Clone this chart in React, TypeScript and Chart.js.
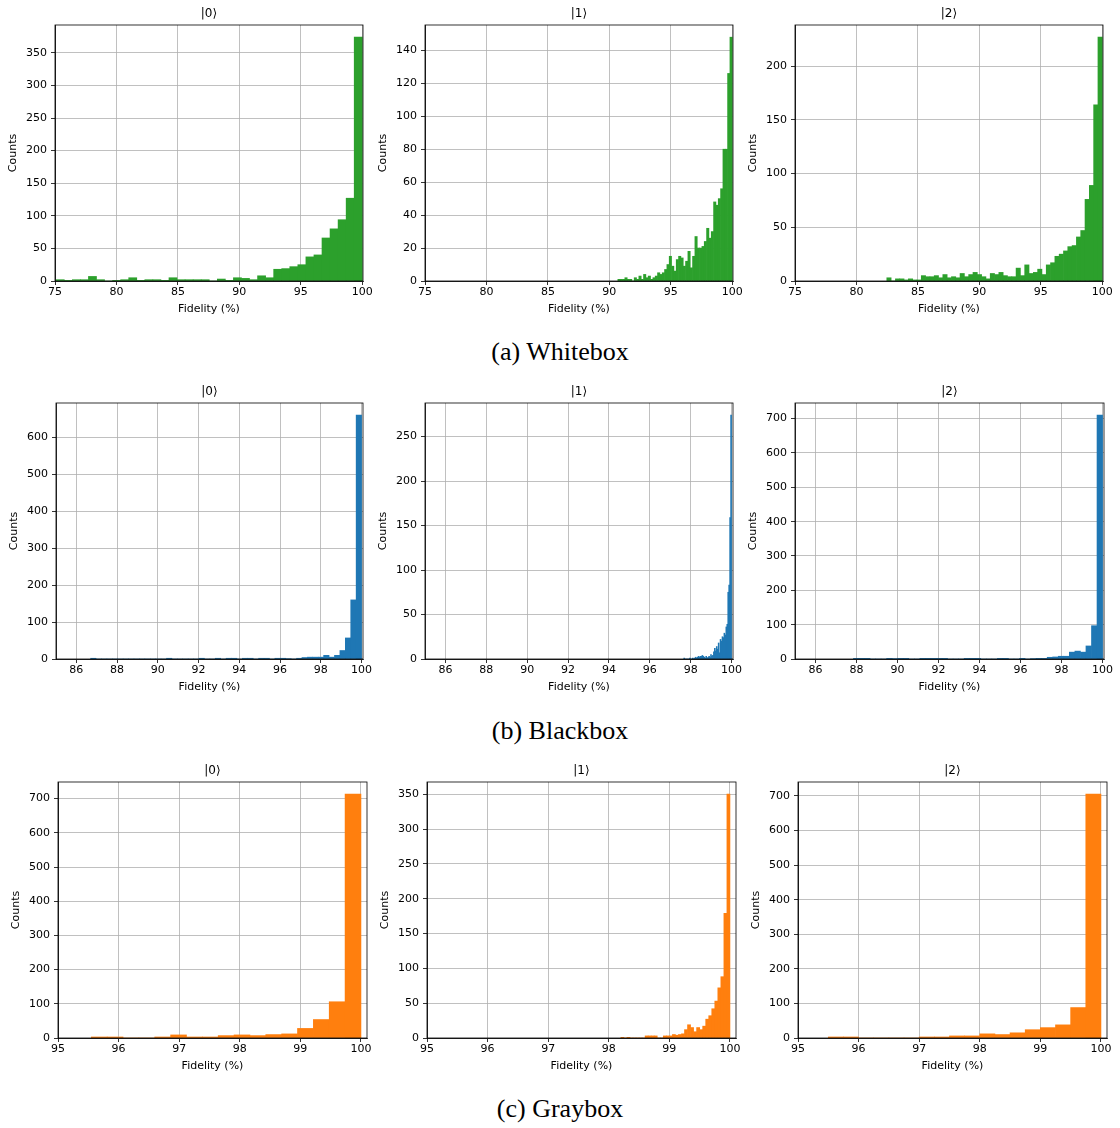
import React, { useEffect, useRef } from "react";
import { Chart, registerables } from "chart.js";

Chart.register(...registerables);

// ---------- data (counts per histogram bin, bins uniform over the range) ----------
const wbRange0: [number, number] = [75.1, 100];
const wbCounts0 = [2, 1, 2, 2, 7, 2, 0, 1, 2, 5, 1, 2, 2, 1, 5, 2, 2, 2, 2, 0, 3, 1, 5, 4, 2, 8, 5, 18, 19, 22, 25, 37, 40, 66, 80, 94, 127, 374];
const wbRange1: [number, number] = [90.69, 100];
const wbCounts1 = [1, 1, 1, 2, 1, 1, 0, 2, 1, 3, 1, 4, 2, 3, 1, 2, 3, 5, 4, 5, 7, 10, 15, 9, 6, 13, 15, 14, 9, 12, 18, 8, 15, 27, 20, 20, 21, 24, 32, 26, 30, 48, 46, 50, 56, 80, 80, 126, 148];
const wbRange2: [number, number] = [82.47, 100];
const wbCounts2 = [3, 0, 2, 2, 1, 2, 1, 1, 5, 4, 4, 5, 3, 6, 3, 4, 3, 7, 4, 6, 8, 6, 4, 2, 7, 6, 8, 5, 4, 4, 12, 5, 15, 7, 8, 11, 6, 15, 17, 23, 25, 28, 32, 33, 41, 47, 76, 89, 164, 227];

const bbRange0: [number, number] = [86.7, 100];
const bbCounts0 = [2, 0, 0, 0, 0, 0, 0, 0, 0, 0, 0, 0, 0, 0, 2, 0, 0, 0, 0, 0, 2, 0, 0, 2, 0, 2, 2, 0, 2, 2, 0, 2, 2, 0, 2, 2, 1, 0, 2, 4, 5, 5, 5, 10, 5, 10, 23, 57, 160, 660];
const bbRange1: [number, number] = [97.66, 100];
const bbCounts1 = [1, 0, 0, 0, 0, 0, 1, 0, 0, 1, 0, 1, 2, 1, 2, 3, 2, 3, 3, 4, 3, 2, 1, 3, 1, 2, 3, 2, 5, 3, 4, 8, 12, 9, 14, 11, 18, 7, 22, 20, 25, 24, 29, 27, 36, 39, 75, 83, 159, 274];
const bbRange2: [number, number] = [87.85, 100];
const bbCounts2 = [2, 2, 2, 0, 0, 0, 2, 1, 2, 2, 0, 0, 2, 2, 2, 2, 2, 0, 0, 0, 2, 2, 2, 0, 0, 0, 2, 2, 0, 0, 2, 0, 1, 2, 2, 5, 6, 8, 8, 20, 23, 20, 38, 97, 710];

const gbRange0: [number, number] = [95.55, 100];
const gbCounts0 = [3, 3, 0, 0, 3, 9, 3, 3, 7, 9, 7, 10, 12, 28, 54, 106, 713];
const gbRange1: [number, number] = [98.2, 100];
const gbCounts1 = [1, 0, 1, 0, 0, 0, 0, 0, 3, 3, 3, 3, 0, 0, 3, 3, 3, 5, 4, 5, 6, 12, 19, 15, 9, 15, 12, 17, 27, 32, 42, 53, 72, 88, 179, 350];
const gbRange2: [number, number] = [95.5, 100];
const gbCounts2 = [3, 3, 0, 0, 0, 0, 3, 3, 6, 6, 12, 10, 15, 24, 30, 38, 88, 705];

// ---------- tick labels ----------
const wbXTicks = [75, 80, 85, 90, 95, 100];
const bbXTicks = [86, 88, 90, 92, 94, 96, 98, 100];
const gbXTicks = [95, 96, 97, 98, 99, 100];
const yTicks350 = [0, 50, 100, 150, 200, 250, 300, 350];
const yTicks140 = [0, 20, 40, 60, 80, 100, 120, 140];
const yTicks200 = [0, 50, 100, 150, 200];
const yTicks600 = [0, 100, 200, 300, 400, 500, 600];
const yTicks250 = [0, 50, 100, 150, 200, 250];
const yTicks700 = [0, 100, 200, 300, 400, 500, 600, 700];

const stateTitles = ["|0\u27E9", "|1\u27E9", "|2\u27E9"];
const captions = ["(a) Whitebox", "(b) Blackbox", "(c) Graybox"];

// ---------- styling ----------
const GREEN = "#2ca02c";
const BLUE = "#1f77b4";
const ORANGE = "#ff7f0e";
const GRID = "#b0b0b0";
const FONT = { family: "'DejaVu Sans', sans-serif", size: 11 };

const Y_AXIS_W = 55;
const TOP_PAD = 25;
const X_AXIS_H = 35;
const RIGHT_PAD = 20;

type PanelDef = {
  title: string;
  counts: number[];
  range: [number, number];
  xMin: number;
  xMax: number;
  xTicks: number[];
  yTicks: number[];
  color: string;
  left: number;
  top: number;
  w: number;
  h: number;
};

const panels: PanelDef[] = [
  { title: stateTitles[0], counts: wbCounts0, range: wbRange0, xMin: 75, xMax: 100.06, xTicks: wbXTicks, yTicks: yTicks350, color: GREEN, left: 55, top: 25, w: 308, h: 256 },
  { title: stateTitles[1], counts: wbCounts1, range: wbRange1, xMin: 75, xMax: 100.06, xTicks: wbXTicks, yTicks: yTicks140, color: GREEN, left: 425, top: 25, w: 308, h: 256 },
  { title: stateTitles[2], counts: wbCounts2, range: wbRange2, xMin: 75, xMax: 100.06, xTicks: wbXTicks, yTicks: yTicks200, color: GREEN, left: 795, top: 25, w: 308, h: 256 },
  { title: stateTitles[0], counts: bbCounts0, range: bbRange0, xMin: 85, xMax: 100.07, xTicks: bbXTicks, yTicks: yTicks600, color: BLUE, left: 56, top: 403, w: 307, h: 256 },
  { title: stateTitles[1], counts: bbCounts1, range: bbRange1, xMin: 85, xMax: 100.07, xTicks: bbXTicks, yTicks: yTicks250, color: BLUE, left: 425, top: 403, w: 308, h: 256 },
  { title: stateTitles[2], counts: bbCounts2, range: bbRange2, xMin: 85, xMax: 100.07, xTicks: bbXTicks, yTicks: yTicks700, color: BLUE, left: 795, top: 403, w: 309, h: 256 },
  { title: stateTitles[0], counts: gbCounts0, range: gbRange0, xMin: 95, xMax: 100.1, xTicks: gbXTicks, yTicks: yTicks700, color: ORANGE, left: 58, top: 782, w: 309, h: 256 },
  { title: stateTitles[1], counts: gbCounts1, range: gbRange1, xMin: 95, xMax: 100.1, xTicks: gbXTicks, yTicks: yTicks350, color: ORANGE, left: 427, top: 782, w: 309, h: 256 },
  { title: stateTitles[2], counts: gbCounts2, range: gbRange2, xMin: 95, xMax: 100.1, xTicks: gbXTicks, yTicks: yTicks700, color: ORANGE, left: 798, top: 782, w: 309, h: 256 },
];

const captionCenters = [352, 731, 1109];

function HistPanel({ p }: { p: PanelDef }) {
  const ref = useRef<HTMLCanvasElement>(null);
  const cw = Y_AXIS_W + p.w + RIGHT_PAD;
  const ch = TOP_PAD + p.h + X_AXIS_H;

  useEffect(() => {
    const canvas = ref.current;
    if (!canvas) return;
    const [a, b] = p.range;
    const n = p.counts.length;
    const binW = (b - a) / n;
    const pts = p.counts.map((c, i) => ({ x: a + (i + 0.5) * binW, y: c }));
    const yMax = Math.max(...p.counts) * 1.05;

    const framePlugin = {
      id: "frameAndTitle",
      afterDraw(chart: any) {
        const { ctx, chartArea } = chart;
        const { left, top, right, bottom } = chartArea;
        ctx.save();
        ctx.strokeStyle = "#000";
        ctx.lineWidth = 0.8;
        ctx.strokeRect(left, top, right - left, bottom - top);
        ctx.fillStyle = "#000";
        ctx.font = `12px ${FONT.family}`;
        ctx.textAlign = "center";
        ctx.textBaseline = "alphabetic";
        ctx.fillText(p.title, (left + right) / 2, top - 8.5);
        ctx.restore();
      },
    };

    const chart = new Chart(canvas, {
      type: "bar",
      data: {
        datasets: [
          {
            data: pts as any,
            backgroundColor: p.color,
            borderWidth: 0,
            barPercentage: 1,
            categoryPercentage: 1,
          },
        ],
      },
      options: {
        animation: false,
        responsive: false,
        events: [],
        layout: { padding: { left: 0, top: TOP_PAD, right: RIGHT_PAD, bottom: 0 } },
        plugins: {
          legend: { display: false },
          tooltip: { enabled: false },
          title: { display: false },
        },
        scales: {
          x: {
            type: "linear",
            min: p.xMin,
            max: p.xMax,
            offset: false,
            z: 1,
            afterBuildTicks: (s: any) => {
              s.ticks = p.xTicks.map((v) => ({ value: v }));
            },
            afterFit: (s: any) => {
              s.height = X_AXIS_H;
            },
            grid: { color: GRID, lineWidth: 0.8, tickColor: "#000", tickLength: 4, offset: false },
            border: { color: "#000", width: 0.8 },
            ticks: {
              color: "#000",
              font: FONT,
              padding: 1,
              maxRotation: 0,
              autoSkip: false,
              callback: (v: any) => String(v),
            },
            title: {
              display: true,
              text: "Fidelity (%)",
              color: "#000",
              font: FONT,
              padding: { top: 0, bottom: 0 },
            },
          } as any,
          y: {
            type: "linear",
            min: 0,
            max: yMax,
            z: 1,
            afterBuildTicks: (s: any) => {
              s.ticks = p.yTicks.map((v) => ({ value: v }));
            },
            afterFit: (s: any) => {
              s.width = Y_AXIS_W;
            },
            grid: { color: GRID, lineWidth: 0.8, tickColor: "#000", tickLength: 4 },
            border: { color: "#000", width: 0.8 },
            ticks: {
              color: "#000",
              font: FONT,
              padding: 4,
              autoSkip: false,
              callback: (v: any) => String(v),
            },
            title: {
              display: true,
              text: "Counts",
              color: "#000",
              font: FONT,
              padding: { top: 7, bottom: 0 },
            },
          } as any,
        },
      },
      plugins: [framePlugin],
    });
    return () => chart.destroy();
  }, [p]);

  return (
    <canvas
      ref={ref}
      width={cw}
      height={ch}
      style={{
        position: "absolute",
        left: p.left - Y_AXIS_W,
        top: p.top - TOP_PAD,
        width: cw,
        height: ch,
      }}
    />
  );
}

export default function App() {
  return (
    <div
      style={{
        position: "absolute",
        left: 0,
        top: 0,
        width: 1120,
        height: 1128,
        background: "#fff",
        overflow: "hidden",
      }}
    >
      {panels.map((p, i) => (
        <HistPanel key={i} p={p} />
      ))}
      {captions.map((c, i) => (
        <div
          key={c}
          style={{
            position: "absolute",
            left: 0,
            width: 1120,
            top: captionCenters[i] - 15,
            height: 30,
            lineHeight: "30px",
            textAlign: "center",
            fontFamily: "'Liberation Serif', 'DejaVu Serif', serif",
            fontSize: 26,
            color: "#000",
          }}
        >
          {c}
        </div>
      ))}
    </div>
  );
}
